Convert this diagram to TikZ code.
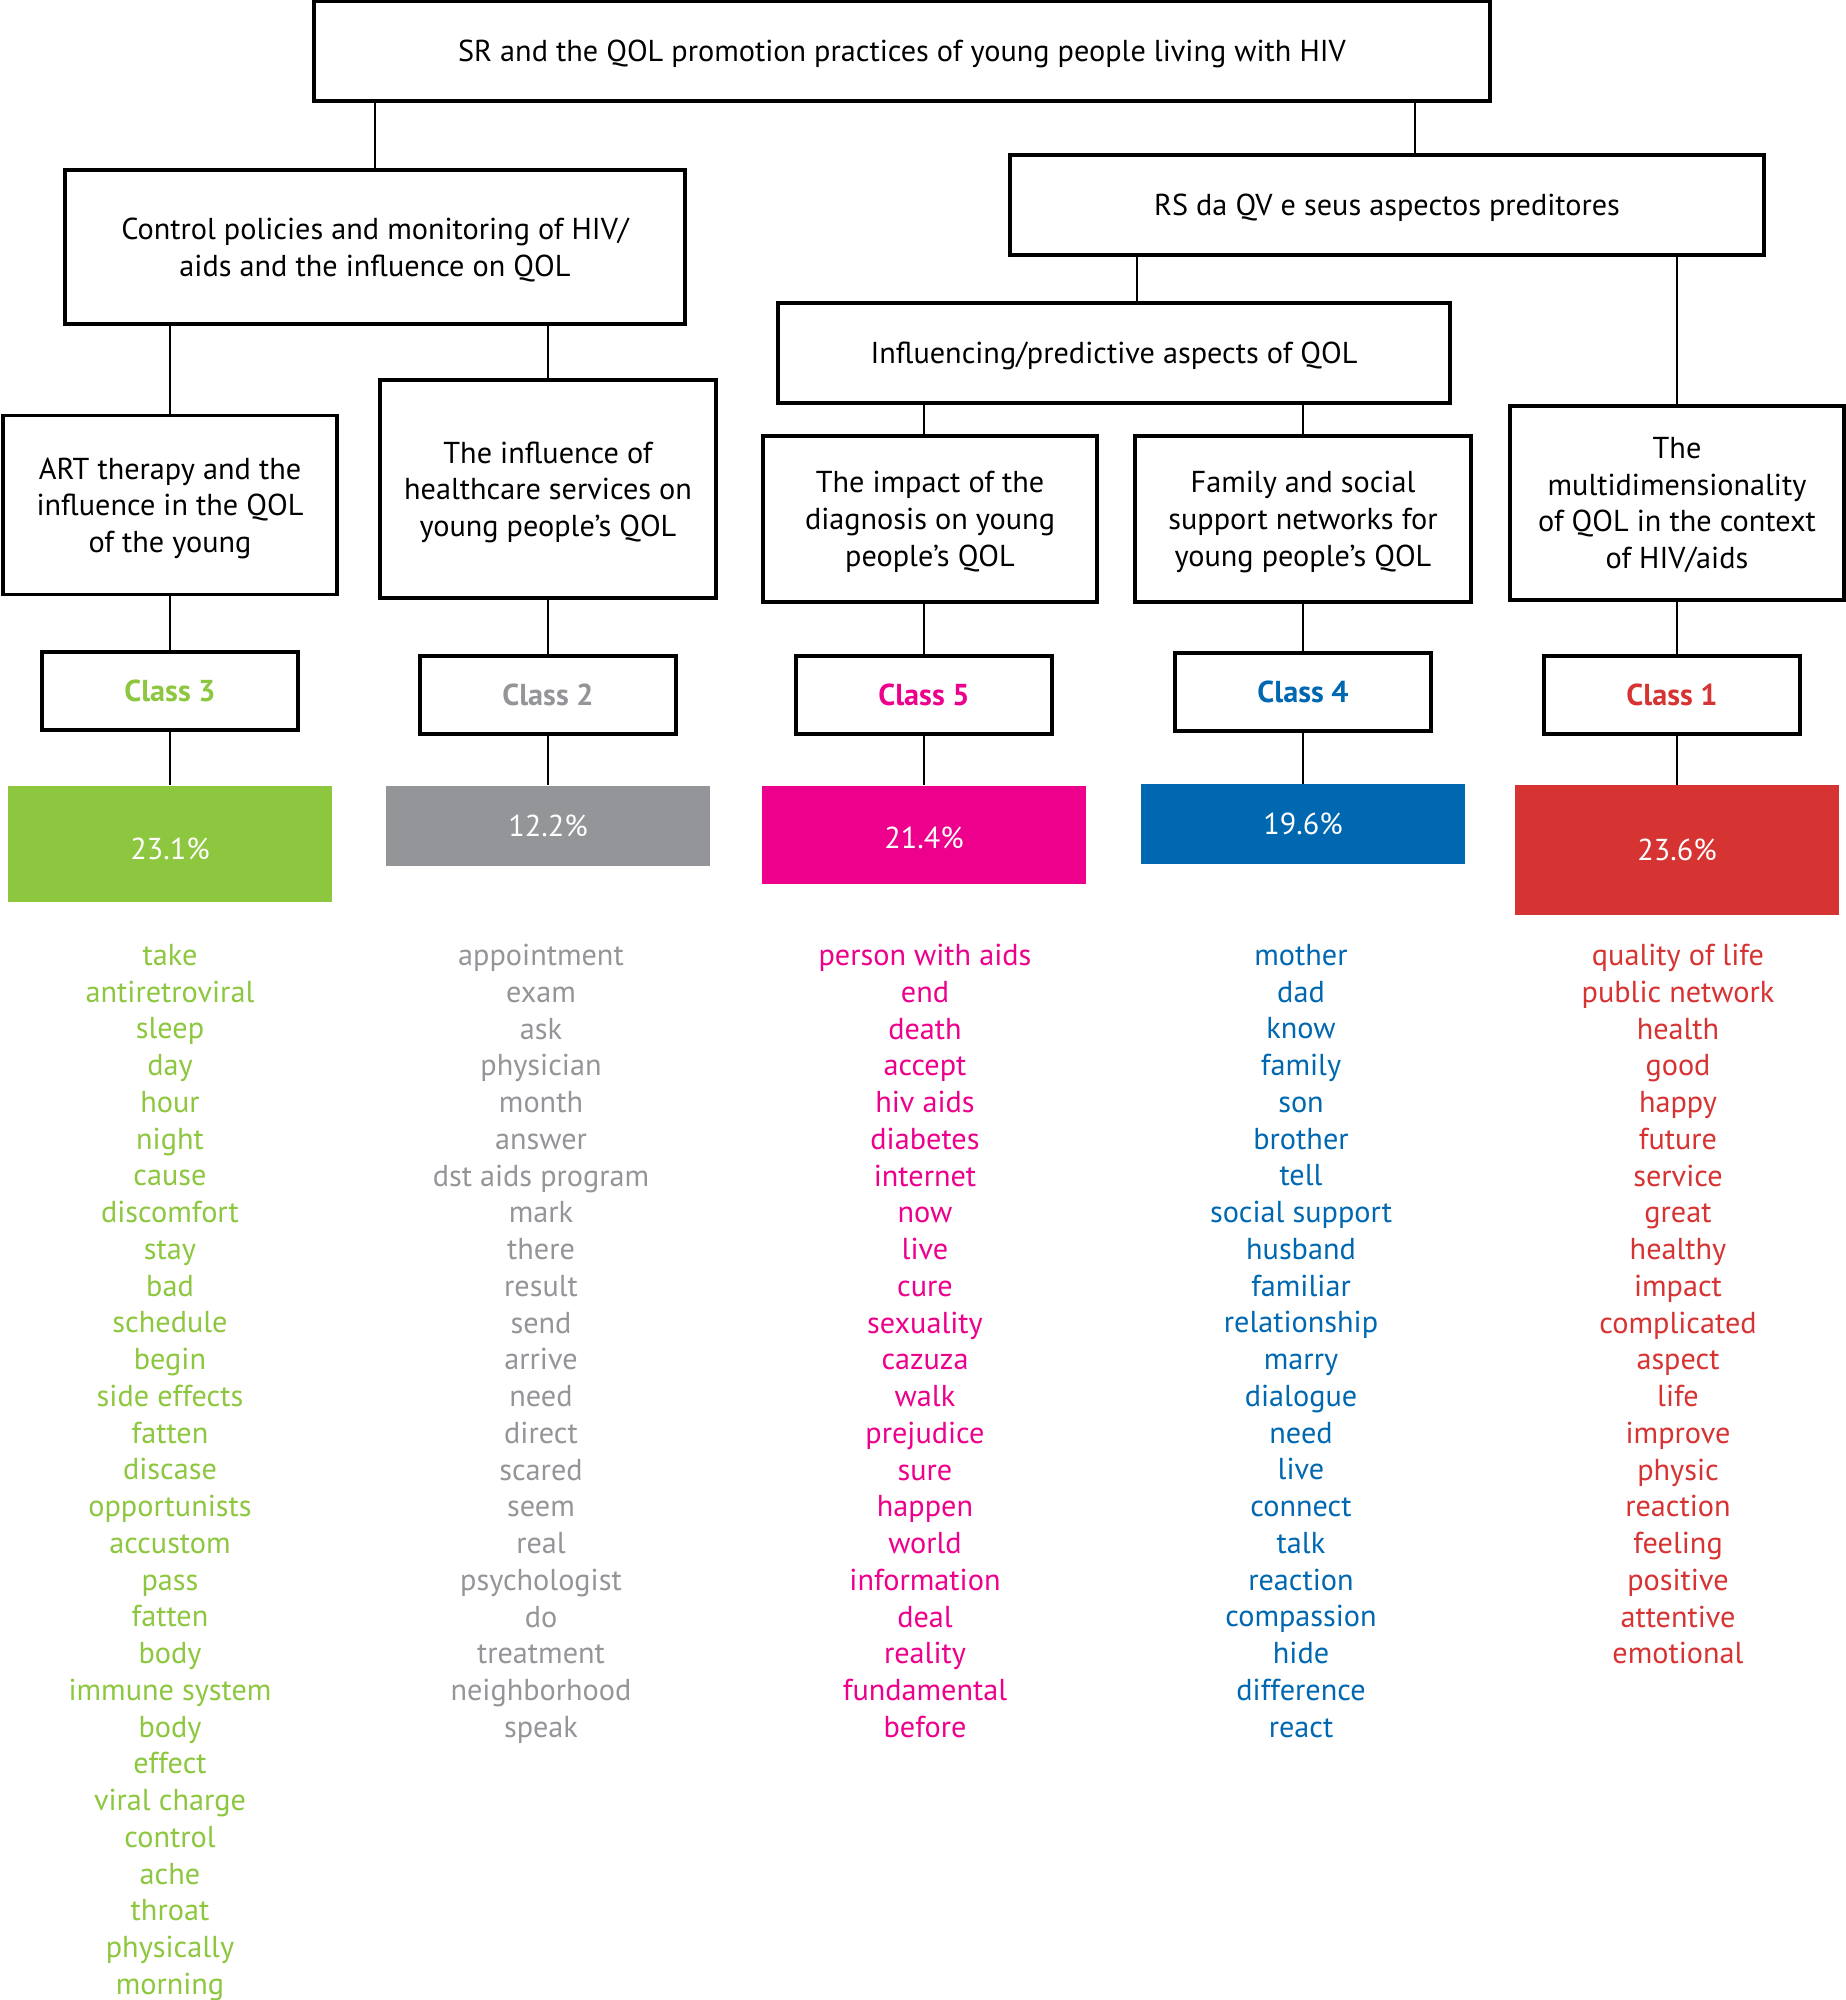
\documentclass[tikz,border=0pt]{standalone}
\usepackage{fontspec}
\setmainfont{PT Sans}
\definecolor{qgreen}{RGB}{141,198,63}
\definecolor{qgray}{RGB}{147,149,152}
\definecolor{qpink}{RGB}{236,0,140}
\definecolor{qblue}{RGB}{0,103,177}
\definecolor{qred}{RGB}{214,51,51}
\newcommand{\qolfont}{\fontsize{8.6}{10.45}\selectfont}
\tikzset{
	box/.style={draw,line width=1.1pt,align=center,inner sep=0pt,text depth=0pt,font=\qolfont},
	classbox/.style={box,text=#1,minimum width=2.56cm,minimum height=0.78cm,font=\qolfont\bfseries},
	pctbox/.style={fill=#1,text=white,minimum width=3.24cm,inner sep=0pt,font=\qolfont},
	wordlist/.style={text=#1,align=center,anchor=north,inner sep=0pt,font=\qolfont},
	link/.style={line width=0.8pt}
}

\begin{document}
\begin{tikzpicture}[x=0.01cm,y=-0.01cm]
	\useasboundingbox (0,0) rectangle (1846,2000);
	% upper levels
	\node[box,minimum width=11.76cm,minimum height=1cm] (top) at (902,51) {SR and the QOL promotion practices of young people living with HIV};
	\node[box,minimum width=6.2cm,minimum height=1.54cm] (ctrl) at (375,247) {Control policies and monitoring of HIV/\\aids and the influence on QOL};
	\node[box,minimum width=7.53cm,minimum height=1cm] (rs) at (1387,205) {RS da QV e seus aspectos preditores};
	\node[box,minimum width=6.71cm,minimum height=1cm] (infl) at (1114,353) {Influencing/predictive aspects of QOL};
	% themes
	\node[box,minimum width=3.34cm,minimum height=1.79cm] (art) at (170,505) {ART therapy and the\\influence in the QOL\\of the young};
	\node[box,minimum width=3.35cm,minimum height=2.18cm] (health) at (548,489) {The influence of\\healthcare services on\\young people’s QOL};
	\node[box,minimum width=3.34cm,minimum height=1.66cm] (impact) at (930,519) {The impact of the\\diagnosis on young\\people’s QOL};
	\node[box,minimum width=3.35cm,minimum height=1.66cm] (family) at (1303,519) {Family and social\\support networks for\\young people’s QOL};
	\node[box,minimum width=3.34cm,minimum height=1.94cm] (multi) at (1677,503) {The\\multidimensionality\\of QOL in the context\\of HIV/aids};
	% classes
	\node[classbox=qgreen] (cl3) at (170,691) {Class 3};
	\node[classbox=qgray] (cl2) at (548,695) {Class 2};
	\node[classbox=qpink] (cl5) at (924,695) {Class 5};
	\node[classbox=qblue] (cl4) at (1303,692) {Class 4};
	\node[classbox=qred] (cl1) at (1672,695) {Class 1};
	\node[pctbox=qgreen,minimum height=1.16cm,text height=9pt] (pct3) at (170,844) {23.1\%};
	\node[pctbox=qgray,minimum height=0.8cm] (pct2) at (548,826) {12.2\%};
	\node[pctbox=qpink,minimum height=0.98cm,text height=7.5pt] (pct5) at (924,835) {21.4\%};
	\node[pctbox=qblue,minimum height=0.79cm] (pct4) at (1303,824) {19.6\%};
	\node[pctbox=qred,minimum height=1.29cm] (pct1) at (1677,850) {23.6\%};
	% word lists
	\node[wordlist=qgreen] (w3) at (170,943.5) {take\\antiretroviral\\sleep\\day\\hour\\night\\cause\\discomfort\\stay\\bad\\schedule\\begin\\side effects\\fatten\\discase\\opportunists\\accustom\\pass\\fatten\\body\\immune system\\body\\effect\\viral charge\\control\\ache\\throat\\physically\\morning};
	\node[wordlist=qgray] (w2) at (541,943.5) {appointment\\exam\\ask\\physician\\month\\answer\\dst aids program\\mark\\there\\result\\send\\arrive\\need\\direct\\scared\\seem\\real\\psychologist\\do\\treatment\\neighborhood\\speak};
	\node[wordlist=qpink] (w5) at (925,943.5) {person with aids\\end\\death\\accept\\hiv aids\\diabetes\\internet\\now\\live\\cure\\sexuality\\cazuza\\walk\\prejudice\\sure\\happen\\world\\information\\deal\\reality\\fundamental\\before};
	\node[wordlist=qblue] (w4) at (1301,943.5) {mother\\dad\\know\\family\\son\\brother\\tell\\social support\\husband\\familiar\\relationship\\marry\\dialogue\\need\\live\\connect\\talk\\reaction\\compassion\\hide\\difference\\react};
	\node[wordlist=qred] (w1) at (1678,943.5) {quality of life\\public network\\health\\good\\happy\\future\\service\\great\\healthy\\impact\\complicated\\aspect\\life\\improve\\physic\\reaction\\feeling\\positive\\attentive\\emotional};
	% connectors
	\coordinate (rsin) at ([xshift=0.28cm]rs.north);
	\coordinate (inflin) at ([xshift=0.23cm]infl.north);
	\draw[link] (ctrl.north) -- (ctrl.north |- top.south);
	\draw[link] (rsin) -- (rsin |- top.south);
	\draw[link] (art.north) -- (art.north |- ctrl.south);
	\draw[link] (health.north) -- (health.north |- ctrl.south);
	\draw[link] (inflin) -- (inflin |- rs.south);
	\draw[link] (multi.north) -- (multi.north |- rs.south);
	\draw[link] (cl5.north |- impact.north) -- (cl5.north |- infl.south);
	\draw[link] (family.north) -- (family.north |- infl.south);
	\draw[link] (art.south) -- (cl3.north);
	\draw[link] (health.south) -- (cl2.north);
	\draw[link] (cl5.north |- impact.south) -- (cl5.north);
	\draw[link] (family.south) -- (cl4.north);
	\draw[link] (multi.south) -- (multi.south |- cl1.north);
	\draw[link] (cl3.south) -- (pct3.north);
	\draw[link] (cl2.south) -- (pct2.north);
	\draw[link] (cl5.south) -- (pct5.north);
	\draw[link] (cl4.south) -- (pct4.north);
	\draw[link] (pct1.north |- cl1.south) -- (pct1.north);
\end{tikzpicture}
\end{document}
